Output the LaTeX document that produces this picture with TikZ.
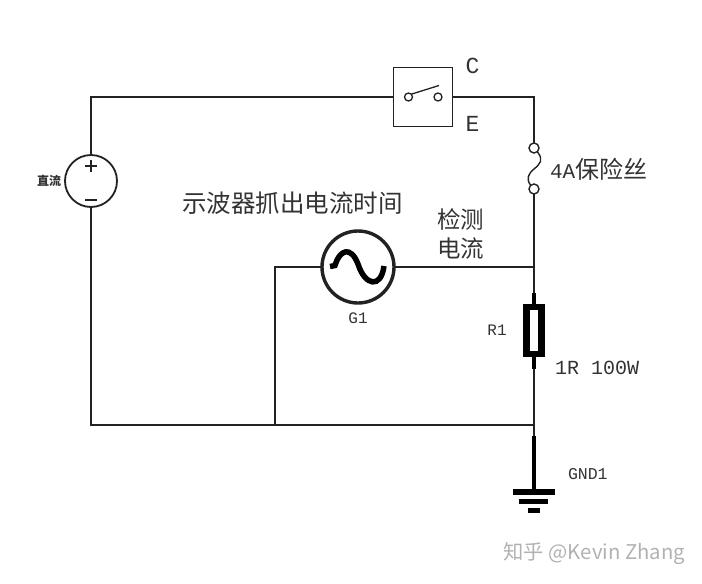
\documentclass[tikz,border=0pt]{standalone}
\usepackage{fontspec}
\setmainfont{Liberation Mono}
\newfontfamily\cjk{Noto Sans CJK SC}
\newfontfamily\wm{Noto Sans CJK SC}
\usetikzlibrary{calc}
\definecolor{wire}{HTML}{222222}
\tikzset{
  wirepath/.style={draw=wire,line width=1.5pt},
  heavy/.style={draw=black,line cap=butt},
  ring/.style={circle,draw=wire,inner sep=0pt,outer sep=0pt},
  lab/.style={inner sep=0pt,outer sep=0pt,text=black!80}
}
\begin{document}
\begin{tikzpicture}[x=1pt,y=-1pt]
\useasboundingbox[fill=white] (0,0) rectangle (702,584);
% nodes
\node[ring,line width=1.8pt,minimum size=52pt] (src) at (91,181) {};
\node[rectangle,draw=wire,line width=1.4pt,minimum width=59pt,minimum height=59pt,inner sep=0pt,outer sep=0pt] (sw) at (423,97) {};
\node[ring,line width=1.4pt,minimum size=10pt] (fuseT) at (534,148) {};
\node[ring,line width=1.4pt,minimum size=10pt] (fuseB) at (534,189) {};
\node[ring,line width=3.4pt,minimum size=72pt] (gen) at (358,267) {};
\node[rectangle,draw=black,line width=6.5pt,minimum width=15pt,minimum height=47pt,inner sep=0pt,outer sep=0pt] (res) at (534,330.5) {};
\coordinate (tl) at (91,97);
\coordinate (tr) at (534,97);
\coordinate (bl) at (91,425);
\coordinate (bm) at (275,425);
\coordinate (br) at (534,425);
\coordinate (gl) at (275,267);
\coordinate (gr) at (534,267);
\coordinate (resT) at (534,293);
\coordinate (resB) at (534,369);
\coordinate (gndT) at (534,436);
\coordinate (gnd) at (534,492);
% wires
\draw[wirepath] (src.north) -- (tl) -- (sw.west);
\draw[wirepath] (sw.east) -- (tr) -- (fuseT.north);
\draw[wirepath] (fuseB.south) -- (gr) -- (resT);
\draw[wirepath] (src.south) -- (bl) -- (br) -- (resB);
\draw[wirepath] (bm) -- (gl) -- (gen.west);
\draw[wirepath] (gen.east) -- (gr);
\draw[wirepath] (br) -- (gndT);
% fuse link
\draw[draw=wire,line width=1.4pt] (537.5,152) .. controls (544,160) and (540,164) .. (534,169) .. controls (528,174) and (526,179) .. (530.5,185);
% resistor leads
\draw[heavy,line width=3.4pt] (resT) -- (res.north);
\draw[heavy,line width=3.4pt] (res.south) -- (resB);
% ground
\draw[heavy,line width=3.2pt] (gndT) -- (gnd);
\draw[heavy,line width=5.5pt] (513,492) -- (555,492);
\draw[heavy,line width=5pt] (519,501) -- (548,501);
\draw[heavy,line width=5pt] (528,510) -- (540,510);
% source polarity
\draw[draw=wire,line width=1.3pt] (85,166) -- (97,166) (91,160) -- (91,172);
\draw[draw=wire,line width=1.6pt] (85,200) -- (97,200);
% switch contacts
\node[ring,line width=1.3pt,minimum size=8pt] (c1) at (408.5,97) {};
\node[ring,line width=1.3pt,minimum size=8pt] (c2) at (438,97) {};
\draw[draw=wire,line width=1.3pt] (c1.north east) -- (439,85.5);
% sine
\draw[draw=black,line width=5.5pt,line cap=butt] (330,266.5) -- (335,265.5) .. controls (340,249) and (351,246) .. (358,264) .. controls (365,286) and (381,289) .. (384,266);
% labels
\node[lab,font=\fontsize{23}{23}\selectfont] (lC) at (472.5,66) {C};
\node[lab,font=\fontsize{23}{23}\selectfont] (lE) at (472.5,124) {E};
\node[lab,font=\fontsize{21}{21}\selectfont,anchor=west] (lF) at (550,169) {4A{\cjk\fontsize{24}{24}\selectfont 保险丝}};
\node[lab,font=\cjk\fontsize{24.5}{24.5}\selectfont,anchor=west] (lO) at (182,203) {示波器抓出电流时间};
\node[lab,font=\cjk\fontsize{23.5}{23.5}\selectfont,anchor=west] (lD1) at (437,219) {检测};
\node[lab,font=\cjk\fontsize{23.5}{23.5}\selectfont,anchor=west] (lD2) at (437,249) {电流};
\node[lab,font=\fontsize{16}{16}\selectfont] (lG) at (358,318) {G1};
\node[lab,font=\fontsize{16}{16}\selectfont] (lR) at (497,330) {R1};
\node[lab,font=\fontsize{20}{20}\selectfont,anchor=west] (lV) at (555,368) {1R 100W};
\node[lab,font=\fontsize{16.5}{16.5}\selectfont,anchor=west] (lN) at (568,474) {GND1};
\node[lab,font=\cjk\fontsize{12}{12}\selectfont\bfseries,anchor=west] (lDC) at (37,181) {直流};
\node[lab,text=black!30,font=\wm\fontsize{20.3}{20.3}\selectfont,anchor=east] (mark) at (685,553) {知乎 @Kevin Zhang};
\end{tikzpicture}
\end{document}
